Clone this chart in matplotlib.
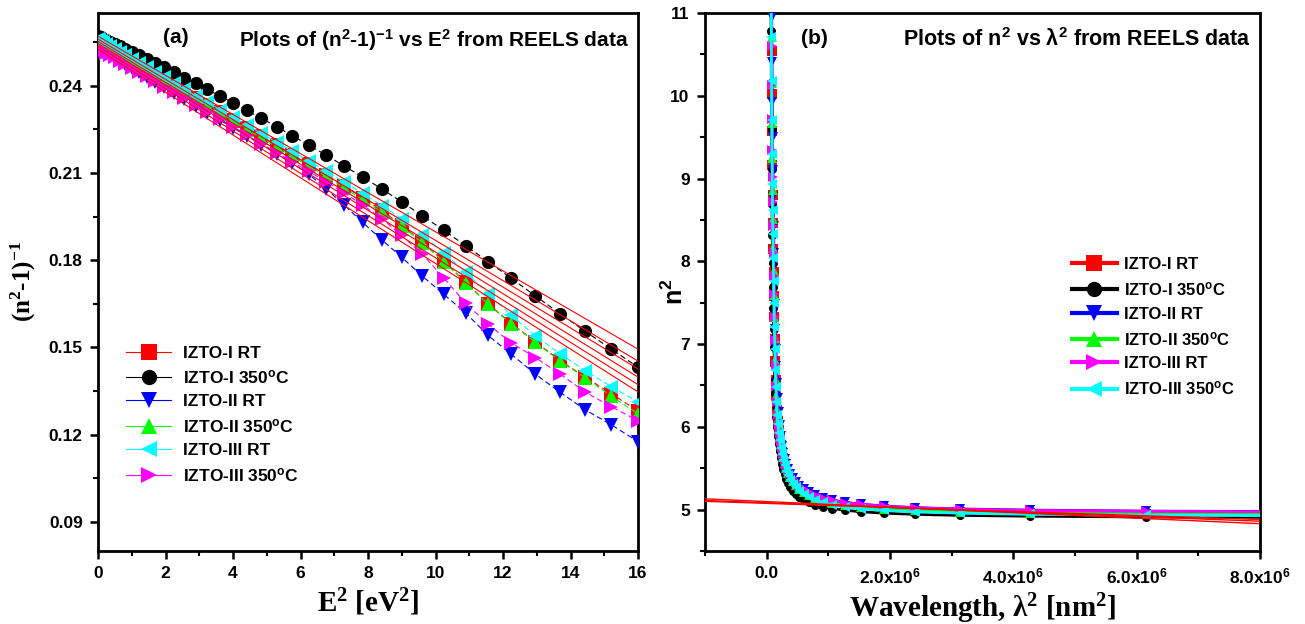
import matplotlib
matplotlib.use("Agg")
import matplotlib.pyplot as plt
from matplotlib.lines import Line2D
from matplotlib.ticker import MultipleLocator, FuncFormatter

plt.rcParams['font.family'] = ['Liberation Sans', 'DejaVu Sans']
plt.rcParams['font.weight'] = 'bold'
plt.rcParams['mathtext.default'] = 'regular'

# ---- panel (a): (n^2-1)^-1 vs E^2 ----
e2 = [0.01, 0.04, 0.09, 0.16, 0.25, 0.36, 0.49, 0.64, 0.81, 1.00,
      1.21, 1.44, 1.69, 1.96, 2.25, 2.56, 2.89, 3.24, 3.61, 4.00,
      4.41, 4.84, 5.29, 5.76, 6.25, 6.76, 7.29, 7.84, 8.41, 9.00,
      9.61, 10.24, 10.89, 11.56, 12.25, 12.96, 13.69, 14.44, 15.21, 16.00]

inv_i_rt = [0.2551, 0.2549, 0.2546, 0.2541, 0.2535, 0.2528, 0.2519, 0.2509, 0.2498, 0.2485,
            0.2471, 0.2456, 0.2439, 0.2421, 0.2401, 0.2380, 0.2358, 0.2334, 0.2309, 0.2283,
            0.2255, 0.2226, 0.2195, 0.2163, 0.2129, 0.2094, 0.2055, 0.2014, 0.1971, 0.1920,
            0.1862, 0.1796, 0.1725, 0.1650, 0.1582, 0.1520, 0.1455, 0.1398, 0.1340, 0.1282]
inv_i_350 = [0.2570, 0.2568, 0.2566, 0.2562, 0.2557, 0.2551, 0.2544, 0.2536, 0.2527, 0.2517,
             0.2505, 0.2492, 0.2478, 0.2463, 0.2446, 0.2428, 0.2408, 0.2387, 0.2365, 0.2341,
             0.2315, 0.2288, 0.2259, 0.2228, 0.2195, 0.2161, 0.2124, 0.2086, 0.2045, 0.2000,
             0.1953, 0.1903, 0.1850, 0.1795, 0.1737, 0.1677, 0.1616, 0.1555, 0.1494, 0.1432]
inv_ii_rt = [0.2527, 0.2525, 0.2522, 0.2517, 0.2511, 0.2504, 0.2495, 0.2485, 0.2473, 0.2460,
             0.2446, 0.2430, 0.2413, 0.2395, 0.2375, 0.2354, 0.2331, 0.2307, 0.2282, 0.2255,
             0.2227, 0.2197, 0.2166, 0.2133, 0.2095, 0.2045, 0.1990, 0.1930, 0.1870, 0.1810,
             0.1745, 0.1683, 0.1619, 0.1541, 0.1476, 0.1408, 0.1346, 0.1285, 0.1234, 0.1176]
inv_ii_350 = [0.2548, 0.2546, 0.2543, 0.2538, 0.2532, 0.2525, 0.2516, 0.2506, 0.2494, 0.2481,
              0.2467, 0.2452, 0.2435, 0.2417, 0.2397, 0.2376, 0.2353, 0.2329, 0.2304, 0.2277,
              0.2249, 0.2220, 0.2189, 0.2157, 0.2123, 0.2088, 0.2049, 0.2008, 0.1965, 0.1917,
              0.1860, 0.1795, 0.1723, 0.1648, 0.1580, 0.1518, 0.1452, 0.1396, 0.1332, 0.1272]
inv_cyan = [0.2559, 0.2557, 0.2554, 0.2549, 0.2543, 0.2536, 0.2527, 0.2517, 0.2506, 0.2493,
            0.2479, 0.2464, 0.2447, 0.2429, 0.2409, 0.2388, 0.2366, 0.2343, 0.2318, 0.2292,
            0.2265, 0.2236, 0.2206, 0.2174, 0.2141, 0.2107, 0.2068, 0.2030, 0.1988, 0.1942,
            0.1888, 0.1826, 0.1758, 0.1685, 0.1610, 0.1540, 0.1478, 0.1420, 0.1365, 0.1313]
inv_magenta = [0.2529, 0.2527, 0.2524, 0.2519, 0.2513, 0.2506, 0.2497, 0.2486, 0.2475, 0.2462,
               0.2448, 0.2432, 0.2415, 0.2397, 0.2377, 0.2356, 0.2333, 0.2310, 0.2285, 0.2258,
               0.2230, 0.2201, 0.2170, 0.2138, 0.2105, 0.2070, 0.2032, 0.1990, 0.1942, 0.1885,
               0.1820, 0.1740, 0.1652, 0.1580, 0.1515, 0.1465, 0.1409, 0.1346, 0.1296, 0.1248]

# linear fits (red) in panel (a): value at E^2 = 0 and at E^2 = 16
fit_a_x = [0, 16]
fit_a_start = [0.2570, 0.2560, 0.2552, 0.2545, 0.2535, 0.2525]
fit_a_end = [0.1494, 0.1453, 0.1426, 0.1398, 0.1372, 0.1347]

# ---- panel (b): n^2 vs lambda^2 (nm^2) ----
lam2 = [9.608e6, 6.149e6, 4.270e6, 3.137e6, 2.402e6, 1.898e6, 1.537e6, 1.270e6, 1.068e6, 0.910e6,
        0.784e6, 0.683e6, 0.600e6, 0.532e6, 0.474e6, 0.426e6, 0.384e6, 0.349e6, 0.318e6, 0.291e6,
        0.267e6, 0.246e6, 0.227e6, 0.211e6, 0.196e6, 0.183e6, 0.171e6, 0.160e6, 0.150e6, 0.141e6,
        0.133e6, 0.1255e6, 0.1186e6, 0.1123e6, 0.1065e6, 0.1011e6, 0.0961e6, 0.0914e6, 0.0871e6, 0.0831e6,
        0.0794e6, 0.0759e6, 0.0727e6, 0.0696e6]

n2_i_rt = [4.935, 4.945, 4.956, 4.970, 4.986, 5.003, 5.024, 5.047, 5.072, 5.100,
           5.131, 5.165, 5.202, 5.241, 5.285, 5.331, 5.380, 5.435, 5.492, 5.556,
           5.623, 5.697, 5.776, 5.866, 5.965, 6.074, 6.208, 6.371, 6.568, 6.797,
           7.061, 7.321, 7.579, 7.873, 8.153, 8.463, 8.800, 9.163, 9.569, 10.025,
           10.542, 11.121, 11.776, 12.520]
n2_i_350 = [4.903, 4.911, 4.920, 4.930, 4.943, 4.957, 4.974, 4.992, 5.013, 5.036,
            5.061, 5.089, 5.119, 5.153, 5.189, 5.229, 5.272, 5.319, 5.371, 5.427,
            5.488, 5.555, 5.628, 5.707, 5.795, 5.890, 6.000, 6.120, 6.255, 6.405,
            6.571, 6.757, 6.963, 7.188, 7.431, 7.693, 7.983, 8.315, 8.692, 9.117,
            9.598, 10.149, 10.785, 11.526]
n2_ii_rt = [4.973, 4.982, 4.994, 5.008, 5.024, 5.044, 5.065, 5.088, 5.115, 5.144,
            5.175, 5.211, 5.248, 5.290, 5.335, 5.382, 5.435, 5.490, 5.552, 5.617,
            5.688, 5.773, 5.890, 6.025, 6.181, 6.348, 6.525, 6.731, 6.942, 7.177,
            7.489, 7.775, 8.102, 8.429, 8.782, 9.104, 9.503, 9.929, 10.407, 10.950,
            11.571, 12.270, 13.080, 13.990]
n2_ii_350 = [4.940, 4.949, 4.960, 4.975, 4.990, 5.010, 5.031, 5.053, 5.078, 5.107,
             5.137, 5.172, 5.209, 5.250, 5.294, 5.340, 5.392, 5.446, 5.505, 5.568,
             5.636, 5.710, 5.789, 5.880, 5.980, 6.089, 6.217, 6.376, 6.571, 6.804,
             7.068, 7.329, 7.588, 7.887, 8.163, 8.508, 8.862, 9.244, 9.673, 10.158,
             10.709, 11.331, 12.040, 12.830]
n2_magenta = [4.970, 4.979, 4.990, 5.005, 5.023, 5.040, 5.062, 5.085, 5.112, 5.141,
              5.172, 5.207, 5.245, 5.286, 5.329, 5.376, 5.429, 5.484, 5.543, 5.608,
              5.677, 5.751, 5.831, 5.921, 6.025, 6.149, 6.305, 6.495, 6.747, 7.053,
              7.329, 7.601, 7.826, 8.097, 8.429, 8.716, 9.013, 9.347, 9.718, 10.132,
              10.597, 11.121, 11.718, 12.390]
n2_cyan = [4.923, 4.932, 4.943, 4.957, 4.973, 4.990, 5.011, 5.034, 5.058, 5.087,
           5.117, 5.151, 5.188, 5.227, 5.268, 5.314, 5.363, 5.415, 5.472, 5.533,
           5.600, 5.671, 5.746, 5.836, 5.926, 6.030, 6.149, 6.297, 6.477, 6.688,
           6.935, 7.211, 7.494, 7.766, 8.042, 8.326, 8.616, 8.937, 9.299, 9.711,
           10.174, 10.709, 11.309, 11.989]

# linear fits (red) in panel (b): value at lambda^2 = -1e6 and 8e6
fit_b_x = [-1.0e6, 8.0e6]
fit_b_start = [5.13, 5.11, 5.10]
fit_b_end = [4.83, 4.86, 4.88]

colors = {'i_rt': '#ff0000', 'i_350': '#000000', 'ii_rt': '#0000ff',
          'ii_350': '#00ff00', 'magenta': '#ff00ff', 'cyan': '#00ffff'}
markers = {'i_rt': 's', 'i_350': 'o', 'ii_rt': 'v', 'ii_350': '^',
           'magenta': '>', 'cyan': '<'}

series_a = [('i_rt', inv_i_rt, 'IZTO-I RT'),
            ('i_350', inv_i_350, 'IZTO-I 350$^{o}$C'),
            ('ii_rt', inv_ii_rt, 'IZTO-II RT'),
            ('ii_350', inv_ii_350, 'IZTO-II 350$^{o}$C'),
            ('cyan', inv_cyan, 'IZTO-III RT'),
            ('magenta', inv_magenta, 'IZTO-III 350$^{o}$C')]
series_b = [('i_rt', n2_i_rt, 'IZTO-I RT'),
            ('i_350', n2_i_350, 'IZTO-I 350$^{o}$C'),
            ('ii_rt', n2_ii_rt, 'IZTO-II RT'),
            ('ii_350', n2_ii_350, 'IZTO-II 350$^{o}$C'),
            ('magenta', n2_magenta, 'IZTO-III RT'),
            ('cyan', n2_cyan, 'IZTO-III 350$^{o}$C')]

fig = plt.figure(figsize=(13.05, 6.24), dpi=100)
ax1 = fig.add_axes([0.0751, 0.1170, 0.4138, 0.8622])
ax2 = fig.add_axes([0.5402, 0.1170, 0.4253, 0.8622])

serif = ['Liberation Serif', 'DejaVu Serif']
sans = ['Liberation Sans', 'DejaVu Sans']

# panel (a)
for key, vals, label in series_a:
    ax1.plot(e2, vals, color=colors[key], marker=markers[key], ms=9.5, mew=0,
             ls=(0, (5, 3)), lw=0.8, zorder=3)
for s, e in zip(fit_a_start, fit_a_end):
    ax1.plot(fit_a_x, [s, e], color='#ff0000', lw=0.8, zorder=4)

ax1.set_xlim(0, 16)
ax1.set_ylim(0.08, 0.265)
ax1.xaxis.set_major_locator(MultipleLocator(2))
ax1.xaxis.set_minor_locator(MultipleLocator(1))
ax1.yaxis.set_major_locator(MultipleLocator(0.03))
ax1.yaxis.set_minor_locator(MultipleLocator(0.015))
ax1.yaxis.set_major_formatter(FuncFormatter(lambda v, p: f'{v:.2f}'))
ax1.set_xlabel('E$^{2}$ [eV$^{2}$]', family=serif, fontsize=21, fontweight='bold', labelpad=4)
ax1.set_ylabel('(n$^{2}$-1)$^{-1}$', family=serif, fontsize=18, fontweight='bold', labelpad=8)
ax1.text(0.144, 0.955, '(a)', transform=ax1.transAxes, fontsize=15,
         ha='center', va='center', family=sans)
ax1.text(0.262, 0.950, 'Plots of (n$^{2}$-1)$^{-1}$ vs E$^{2}$ from REELS data',
         transform=ax1.transAxes, fontsize=15, ha='left', va='center', family=sans)

handles_a = [Line2D([], [], color=colors[k], marker=markers[k], ms=11, mew=0, lw=0.8)
             for k, _, _ in series_a]
ax1.legend(handles_a, [lab for _, _, lab in series_a], loc='upper left',
           bbox_to_anchor=(0.036, 0.398), frameon=False, fontsize=12.5,
           handlelength=2.6, handletextpad=0.7, labelspacing=0.45, borderpad=0)

# panel (b)
for key, vals, label in series_b:
    ax2.plot(lam2, vals, color=colors[key], marker=markers[key], ms=6.5, mew=0,
             lw=2, zorder=3)
for s, e in zip(fit_b_start, fit_b_end):
    ax2.plot(fit_b_x, [s, e], color='#ff0000', lw=1.0, zorder=4)

ax2.set_xlim(-1.0e6, 8.0e6)
ax2.set_ylim(4.5, 11)
ax2.xaxis.set_major_locator(MultipleLocator(2e6))
ax2.xaxis.set_minor_locator(MultipleLocator(1e6))
ax2.yaxis.set_major_locator(MultipleLocator(1))
ax2.yaxis.set_minor_locator(MultipleLocator(0.5))
ax2.xaxis.set_major_formatter(FuncFormatter(
    lambda v, p: '0.0' if abs(v) < 1 else f'{v / 1e6:.1f}x10$^{{6}}$'))
ax2.set_xlabel('Wavelength, λ$^{2}$ [nm$^{2}$]', family=serif, fontsize=21,
               fontweight='bold', labelpad=4)
ax2.set_ylabel('n$^{2}$', family=sans, fontsize=18, fontweight='bold')
ax2.yaxis.set_label_coords(-0.03, 0.482)
ax2.text(0.198, 0.952, '(b)', transform=ax2.transAxes, fontsize=15,
         ha='center', va='center', family=sans)
ax2.text(0.357, 0.950, 'Plots of n$^{2}$ vs λ$^{2}$ from REELS data', transform=ax2.transAxes,
         fontsize=15.5, ha='left', va='center', family=sans)

handles_b = [Line2D([], [], color=colors[k], marker=markers[k], ms=11, mew=0, lw=3)
             for k, _, _ in series_b]
ax2.legend(handles_b, [lab for _, _, lab in series_b], loc='upper left',
           bbox_to_anchor=(0.646, 0.562), frameon=False, fontsize=12,
           handlelength=2.7, handletextpad=0.4, labelspacing=0.5, borderpad=0)

for ax in (ax1, ax2):
    for sp in ax.spines.values():
        sp.set_linewidth(2)
    ax.tick_params(which='major', direction='out', length=6, width=1.8, labelsize=12.5, pad=5)
    ax.tick_params(which='minor', direction='out', length=3.5, width=1.5)
    for lab in ax.get_xticklabels() + ax.get_yticklabels():
        lab.set_fontweight('bold')

fig.savefig('out.png', dpi=100)
